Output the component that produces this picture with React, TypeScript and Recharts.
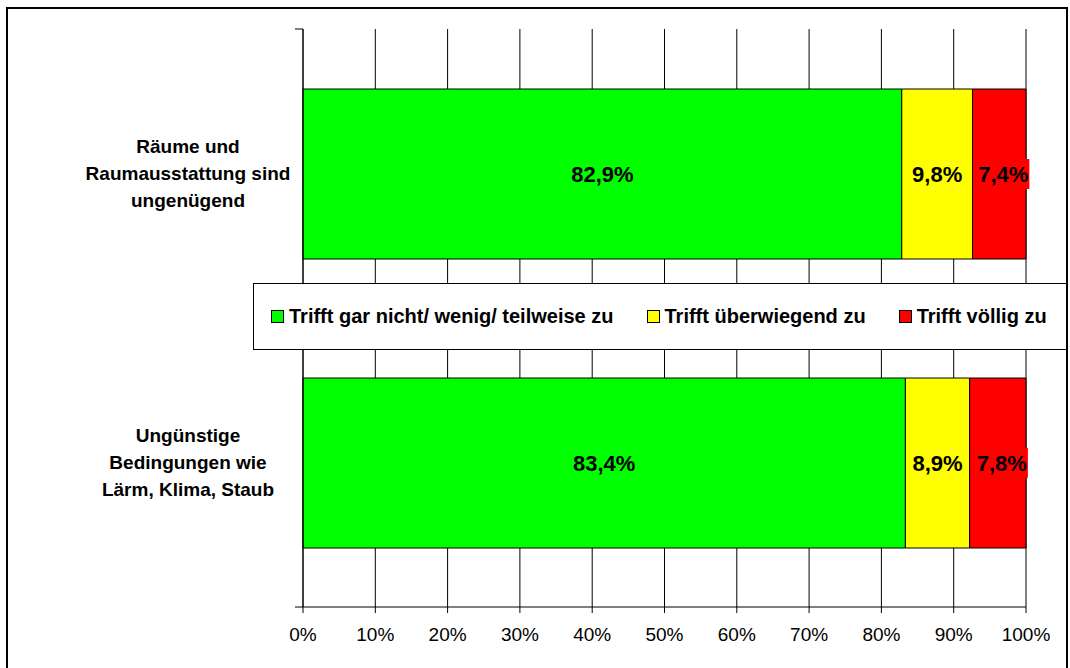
import React from 'react';
import { BarChart, Bar, XAxis, YAxis, CartesianGrid, LabelList } from 'recharts';

const FONT = '"Liberation Sans", Arial, sans-serif';

const categories = [
  'Räume und Raumausstattung sind ungenügend',
  'Ungünstige Bedingungen wie Lärm, Klima, Staub',
];
const categoryLines = [
  ['Räume und', 'Raumausstattung sind', 'ungenügend'],
  ['Ungünstige', 'Bedingungen wie', 'Lärm, Klima, Staub'],
];
const seriesNames = ['Trifft gar nicht/ wenig/ teilweise zu', 'Trifft überwiegend zu', 'Trifft völlig zu'];
const seriesKeys = ['low', 'mid', 'high'];
const seriesColors = ['#00FF00', '#FFFF00', '#FF0000'];
const lowValues = [82.9, 83.4];
const midValues = [9.8, 8.9];
const highValues = [7.4, 7.8];
const xTicks = [0, 0.1, 0.2, 0.3, 0.4, 0.5, 0.6, 0.7, 0.8, 0.9, 1];
const xTickLabels = ['0%', '10%', '20%', '30%', '40%', '50%', '60%', '70%', '80%', '90%', '100%'];

const seriesValues = [lowValues, midValues, highValues];

const data = categories.map((name, i) => ({
  name,
  low: lowValues[i],
  mid: midValues[i],
  high: highValues[i],
}));

const LABEL_SIZE = 22;
const charW: Record<string, number> = { ',': 0.278, '%': 0.889 };
const textWidth = (s: string) =>
  s.split('').reduce((a, c) => a + (charW[c] ?? 0.556), 0) * LABEL_SIZE;

const fmt = (v: number) => v.toFixed(1).replace('.', ',') + '%';

const makeLabel = (values: number[], bg: string | null, shift: number) => (props: any) => {
  const { x, y, width, height, index } = props;
  const text = fmt(values[index]);
  const cx = Number(x) + Number(width) / 2 + shift;
  const cy = Number(y) + Number(height) / 2;
  const w = textWidth(text);
  return (
    <g>
      {bg && <rect x={cx - w / 2 - 1} y={cy - 15} width={w + 2} height={30} fill={bg} />}
      <text
        x={cx}
        y={cy}
        textAnchor="middle"
        dominantBaseline="central"
        fontFamily={FONT}
        fontWeight="bold"
        fontSize={LABEL_SIZE}
        fill="#000"
      >
        {text}
      </text>
    </g>
  );
};

const CategoryTick = (props: any) => {
  const { y, index } = props;
  const lines = categoryLines[index] || [];
  const lh = 27;
  const start = Number(y) - ((lines.length - 1) * lh) / 2;
  return (
    <g>
      {lines.map((l, i) => (
        <text
          key={i}
          x={188}
          y={start + i * lh}
          textAnchor="middle"
          dominantBaseline="central"
          fontFamily={FONT}
          fontWeight="bold"
          fontSize={19}
          fill="#000"
        >
          {l}
        </text>
      ))}
    </g>
  );
};

export default function App() {
  return (
    <div style={{ position: 'absolute', left: 0, top: 0, width: 1070, height: 668, background: '#fff', fontFamily: FONT, overflow: 'hidden' }}>
      <BarChart
        width={1070}
        height={668}
        data={data}
        layout="vertical"
        stackOffset="expand"
        barSize={170}
        margin={{ top: 29, right: 44, bottom: 21, left: 8 }}
      >
        <CartesianGrid horizontal={false} vertical={true} stroke="#000" strokeOpacity={1} />
        <XAxis
          type="number"
          domain={[0, 1]}
          ticks={xTicks}
          tickFormatter={(v: number) => xTickLabels[xTicks.findIndex((t) => Math.abs(t - v) < 1e-6)] ?? ''}
          tick={{ fill: '#000', fontSize: 19, fontFamily: FONT }}
          tickSize={6}
          tickMargin={15}
          axisLine={{ stroke: '#000' }}
          tickLine={{ stroke: '#000' }}
          height={40}
          interval={0}
        />
        <YAxis
          type="category"
          dataKey="name"
          width={295}
          tick={<CategoryTick />}
          tickLine={false}
          axisLine={{ stroke: '#000' }}
          interval={0}
        />
        {seriesKeys.map((k, si) => (
          <Bar
            key={k}
            dataKey={k}
            name={seriesNames[si]}
            stackId="a"
            fill={seriesColors[si]}
            stroke="#000"
            strokeWidth={1}
            isAnimationActive={false}
          >
            <LabelList
              dataKey={k}
              content={makeLabel(seriesValues[si], si === 2 ? seriesColors[2] : null, si === 2 ? 4 : 0)}
            />
          </Bar>
        ))}
        <line x1={295} y1={29} x2={303} y2={29} stroke="#000" />
        <line x1={295} y1={607} x2={303} y2={607} stroke="#000" />
      </BarChart>

      <div
        style={{
          position: 'absolute',
          left: 253,
          top: 283,
          width: 815,
          height: 67,
          boxSizing: 'border-box',
          border: '1px solid #000',
          background: '#fff',
          display: 'flex',
          alignItems: 'center',
          paddingLeft: 17,
        }}
      >
        {seriesNames.map((n, i) => (
          <div key={n} style={{ display: 'flex', alignItems: 'center', marginRight: 33 }}>
            <div
              style={{
                width: 11,
                height: 11,
                border: '1px solid #000',
                background: seriesColors[i],
                marginRight: 5,
              }}
            />
            <span style={{ fontFamily: FONT, fontWeight: 'bold', fontSize: 20, color: '#000', whiteSpace: 'nowrap' }}>{n}</span>
          </div>
        ))}
      </div>

      <div
        style={{
          position: 'absolute',
          left: 6,
          top: 7,
          width: 1062,
          height: 700,
          boxSizing: 'border-box',
          border: '2px solid #000',
          pointerEvents: 'none',
        }}
      />
    </div>
  );
}
